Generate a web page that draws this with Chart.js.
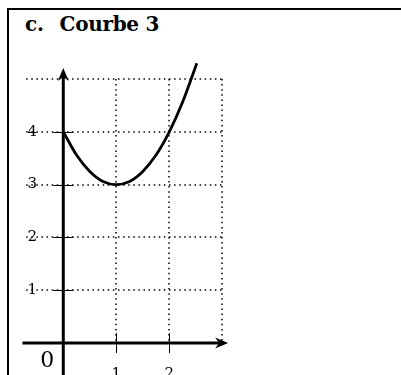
<!DOCTYPE html>
<html lang="fr">
    <head>
        <meta charset="utf-8" />
        <script src="https://cdn.jsdelivr.net/npm/chart.js@4.4.1/dist/chart.umd.min.js"></script>
        <title>Courbe 3</title>
        <style>
            body { margin: 0; background: #fff; }
            #cadre { position: relative; width: 401px; height: 375px; overflow: hidden; }
            #bord { position: absolute; left: 7px; top: 8px; right: -5px; bottom: -5px;
                    border-left: 2px solid #000; border-top: 2px solid #000; }
            #titre { position: absolute; left: 25px; top: 12px; font: bold 20px "DejaVu Serif", serif;
                     color: #000; white-space: pre; letter-spacing: -0.3px; }
            #titre span { margin-left: 16px; }
            #zone { position: absolute; left: 0; top: 0; width: 401px; height: 375px; }
        </style>
    </head>
    <body>
        <div id="cadre">
            <div id="bord"></div>
            <div id="titre">c.<span>Courbe 3</span></div>
            <div id="zone"><canvas id="courbe"></canvas></div>
        </div>
        <script>
            // points
            const abscisses = [0, 0.25, 0.5, 0.75, 1, 1.25, 1.5, 1.75, 2, 2.25, 2.52];
            const ordonnees = [4, 3.56, 3.25, 3.06, 3, 3.06, 3.25, 3.56, 4, 4.56, 5.3];
            // graduations
            const graduationsX = [1, 2];
            const graduationsY = [1, 2, 3, 4];
            // quadrillage
            const quadrillageX = [1, 2, 3];
            const quadrillageY = [1, 2, 3, 4, 5];
            const origine = "0";

            const points = abscisses.map((x, i) => ({x: x, y: ordonnees[i]}));

            // dessin du repère avec les échelles de Chart.js
            const repere = {
                id: "repere",
                beforeDatasetsDraw(chart) {
                    const ctx = chart.ctx;
                    const sx = chart.scales.x, sy = chart.scales.y;
                    const x0 = sx.getPixelForValue(0), y0 = sy.getPixelForValue(0);
                    ctx.save();
                    // étiquettes
                    ctx.fillStyle = "#000";
                    ctx.textAlign = "center";
                    ctx.textBaseline = "middle";
                    ctx.font = "15px 'DejaVu Serif', serif";
                    graduationsY.forEach(v => {
                        ctx.fillText(String(v), x0 - 31, sy.getPixelForValue(v));
                    });
                    ctx.textBaseline = "top";
                    graduationsX.forEach(v => {
                        ctx.fillText(String(v), sx.getPixelForValue(v), y0 + 24);
                    });
                    ctx.font = "22px 'DejaVu Serif', serif";
                    ctx.textBaseline = "middle";
                    ctx.fillText(origine, x0 - 16, y0 + 18);
                    // quadrillage pointillé
                    ctx.strokeStyle = "#000";
                    ctx.lineWidth = 1.5;
                    ctx.setLineDash([1.5, 3.6]);
                    quadrillageY.forEach(v => {
                        const p = Math.round(sy.getPixelForValue(v));
                        ctx.beginPath();
                        ctx.moveTo(sx.getPixelForValue(-0.7), p);
                        ctx.lineTo(sx.getPixelForValue(3), p);
                        ctx.stroke();
                    });
                    quadrillageX.forEach(v => {
                        const p = Math.round(sx.getPixelForValue(v));
                        ctx.beginPath();
                        ctx.moveTo(p, sy.getPixelForValue(5));
                        ctx.lineTo(p, sy.getPixelForValue(0));
                        ctx.stroke();
                    });
                    ctx.restore();
                },
                afterDatasetsDraw(chart) {
                    const ctx = chart.ctx;
                    const sx = chart.scales.x, sy = chart.scales.y;
                    const x0 = sx.getPixelForValue(0), y0 = sy.getPixelForValue(0);
                    ctx.save();
                    ctx.strokeStyle = "#000";
                    ctx.fillStyle = "#000";
                    // graduations
                    ctx.lineWidth = 1;
                    graduationsY.forEach(v => {
                        const p = Math.round(sy.getPixelForValue(v)) + 0.5;
                        ctx.beginPath(); ctx.moveTo(x0 - 10, p); ctx.lineTo(x0 + 10, p); ctx.stroke();
                    });
                    graduationsX.forEach(v => {
                        const p = Math.round(sx.getPixelForValue(v)) + 0.5;
                        ctx.beginPath(); ctx.moveTo(p, y0 - 10); ctx.lineTo(p, y0 + 10); ctx.stroke();
                    });
                    // axes
                    ctx.lineWidth = 3;
                    const xa = sx.getPixelForValue(-0.77), xb = sx.getPixelForValue(3.11);
                    const yb = sy.getPixelForValue(-0.7), ya = sy.getPixelForValue(5.21);
                    ctx.beginPath(); ctx.moveTo(xa, y0); ctx.lineTo(xb - 8, y0); ctx.stroke();
                    ctx.beginPath(); ctx.moveTo(x0, yb); ctx.lineTo(x0, ya + 8); ctx.stroke();
                    // flèches
                    ctx.beginPath();
                    ctx.moveTo(xb, y0); ctx.lineTo(xb - 13, y0 - 5.5); ctx.lineTo(xb - 9, y0); ctx.lineTo(xb - 13, y0 + 5.5);
                    ctx.closePath(); ctx.fill();
                    ctx.beginPath();
                    ctx.moveTo(x0, ya); ctx.lineTo(x0 - 5.5, ya + 13); ctx.lineTo(x0, ya + 9); ctx.lineTo(x0 + 5.5, ya + 13);
                    ctx.closePath(); ctx.fill();
                    ctx.restore();
                }
            };

            new Chart(document.getElementById("courbe").getContext("2d"), {
                type: "scatter",
                data: {
                    datasets: [{
                        label: "Courbe 3",
                        data: points,
                        showLine: true,
                        borderColor: "#000",
                        borderWidth: 2.8,
                        pointRadius: 0,
                        tension: 0.4,
                        cubicInterpolationMode: "monotone",
                        fill: false
                    }]
                },
                options: {
                    responsive: true,
                    maintainAspectRatio: false,
                    animation: false,
                    layout: { padding: 0 },
                    plugins: { legend: { display: false }, title: { display: false }, tooltip: { enabled: false } },
                    scales: {
                        x: { type: "linear", display: false, min: -1.194, max: 6.372 },
                        y: { type: "linear", display: false, min: -0.606, max: 6.496 }
                    }
                },
                plugins: [repere]
            });
        </script>
    </body>
</html>
